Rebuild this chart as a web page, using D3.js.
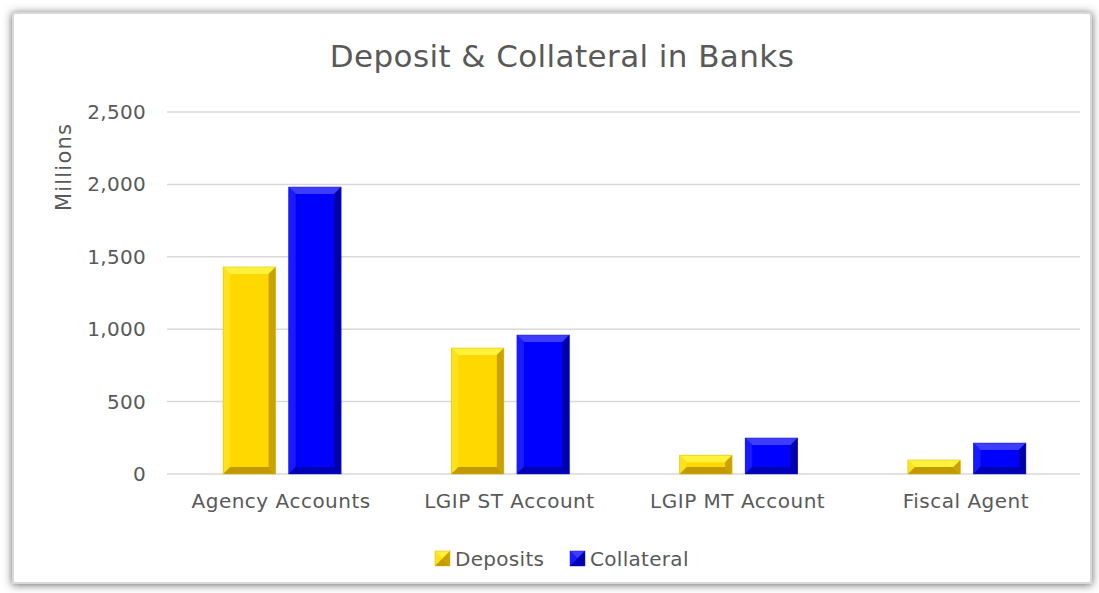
<!DOCTYPE html>
<html>
<head>
<meta charset="utf-8">
<script src="https://cdn.jsdelivr.net/npm/d3@7"></script>
<style>
  body { margin: 0; background: #fff; }
  text { font-family: "DejaVu Sans", sans-serif; fill: #595959; }
</style>
</head>
<body>
<div id="chart"></div>
<script>
// Data
var categories = ["Agency Accounts", "LGIP ST Account", "LGIP MT Account", "Fiscal Agent"];
var seriesNames = ["Deposits", "Collateral"];
var deposits = [1430, 870, 130, 97];
var collateral = [1982, 960, 249, 214];
var yTicks = [0, 500, 1000, 1500, 2000, 2500];

var totalWidth = 1099, totalHeight = 593;
var margin = { top: 112, right: 19, bottom: 119, left: 167 };
var width = totalWidth - margin.left - margin.right;
var height = totalHeight - margin.top - margin.bottom;

// colours for bevel pieces
var palette = {
  Deposits:   { face: "#ffd800", top: "#fff23a", left: "#ffe21a", right: "#c9a200", bottom: "#c29a00", stroke: "#d9b400" },
  Collateral: { face: "#0000ff", top: "#3d3dff", left: "#1a1aff", right: "#0000a8", bottom: "#0000b4", stroke: "#2020c8" }
};

var svg = d3.select("#chart").append("svg")
    .attr("width", totalWidth)
    .attr("height", totalHeight);

var defs = svg.append("defs");
var shadow = defs.append("filter").attr("id", "shadow")
    .attr("x", "-5%").attr("y", "-5%").attr("width", "110%").attr("height", "110%");
shadow.append("feDropShadow")
    .attr("dx", 0).attr("dy", 1)
    .attr("stdDeviation", 4)
    .attr("flood-color", "#555")
    .attr("flood-opacity", 0.9);

// chart frame
svg.append("rect")
    .attr("x", 12).attr("y", 12)
    .attr("width", 1080).attr("height", 572)
    .attr("fill", "#fff")
    .attr("filter", "url(#shadow)");
svg.append("rect")
    .attr("x", 13).attr("y", 13)
    .attr("width", 1078).attr("height", 570)
    .attr("fill", "none")
    .attr("stroke", "#d8d8d8")
    .attr("stroke-width", 2);

var g = svg.append("g").attr("transform", "translate(" + margin.left + "," + margin.top + ")");

var x0 = d3.scaleBand().domain(categories).range([0, width]).paddingInner(0).paddingOuter(0);
var x1 = d3.scaleBand().domain(seriesNames).range([x0.bandwidth() / 2 - 58, x0.bandwidth() / 2 + 60]).paddingInner(0.2);
var y = d3.scaleLinear().domain([0, 2500]).range([height, 0]);

// gridlines
g.append("g").selectAll("line").data(yTicks).enter().append("line")
    .attr("x1", 0).attr("x2", width)
    .attr("y1", function(d) { return y(d); })
    .attr("y2", function(d) { return y(d); })
    .attr("stroke", "#d9d9d9")
    .attr("stroke-width", 1.5);

// y axis labels
var yAxis = g.append("g")
    .call(d3.axisLeft(y).tickValues(yTicks).tickSize(0).tickPadding(21).tickFormat(d3.format(",")));
yAxis.select(".domain").remove();
yAxis.selectAll("text")
    .style("font-size", "20px")
    .style("letter-spacing", "0.3px")
    .style("fill", "#595959")
    .style("font-family", "'DejaVu Sans', sans-serif");

// x axis labels
var xAxis = g.append("g").attr("transform", "translate(0," + height + ")")
    .call(d3.axisBottom(x0).tickSize(0).tickPadding(20));
xAxis.select(".domain").remove();
xAxis.selectAll("text")
    .style("font-size", "20px")
    .style("letter-spacing", "0.5px")
    .style("fill", "#595959")
    .style("font-family", "'DejaVu Sans', sans-serif");

// bevelled bar
function bevelBar(sel, bx, by, bw, bh, pal) {
  var b = Math.min(7, bw / 2, bh / 2);
  var x2 = bx + bw, y2 = by + bh;
  function poly(pts, fill) {
    sel.append("polygon").attr("points", pts.map(function(p) { return p.join(","); }).join(" ")).attr("fill", fill);
  }
  poly([[bx, by], [x2, by], [x2, y2], [bx, y2]], pal.face);
  poly([[bx, by], [x2, by], [x2 - b, by + b], [bx + b, by + b]], pal.top);
  poly([[bx, by], [bx + b, by + b], [bx + b, y2 - b], [bx, y2]], pal.left);
  poly([[x2, by], [x2, y2], [x2 - b, y2 - b], [x2 - b, by + b]], pal.right);
  poly([[bx, y2], [bx + b, y2 - b], [x2 - b, y2 - b], [x2, y2]], pal.bottom);
  sel.append("rect").attr("x", bx).attr("y", by).attr("width", bw).attr("height", bh)
      .attr("fill", "none").attr("stroke", pal.stroke).attr("stroke-width", 0.8).attr("stroke-opacity", 0.6);
}

var series = [deposits, collateral];
var bars = g.append("g");
categories.forEach(function(c, i) {
  seriesNames.forEach(function(s, j) {
    var v = series[j][i];
    var bx = x0(c) + x1(s);
    bevelBar(bars.append("g"), bx, y(v), x1.bandwidth(), y(0) - y(v), palette[s]);
  });
});

// title
svg.append("text")
    .attr("x", 562).attr("y", 67)
    .attr("text-anchor", "middle")
    .style("font-size", "31px")
    .style("letter-spacing", "0.4px")
    .style("fill", "#595959")
    .text("Deposit & Collateral in Banks");

// y axis title
svg.append("text")
    .attr("transform", "translate(71,167) rotate(-90)")
    .attr("text-anchor", "middle")
    .style("font-size", "21px")
    .style("letter-spacing", "1.2px")
    .text("Millions");

// legend
var legend = svg.append("g").attr("transform", "translate(435,550)");
var legendX = [0, 135];
seriesNames.forEach(function(s, j) {
  var lg = legend.append("g").attr("transform", "translate(" + legendX[j] + ",0)");
  bevelBar(lg, 0, 1, 15, 15, palette[s]);
  lg.append("text").attr("x", 20).attr("y", 16)
      .style("font-size", "20px")
      .style("letter-spacing", "0.3px")
      .text(s);
});
</script>
</body>
</html>
